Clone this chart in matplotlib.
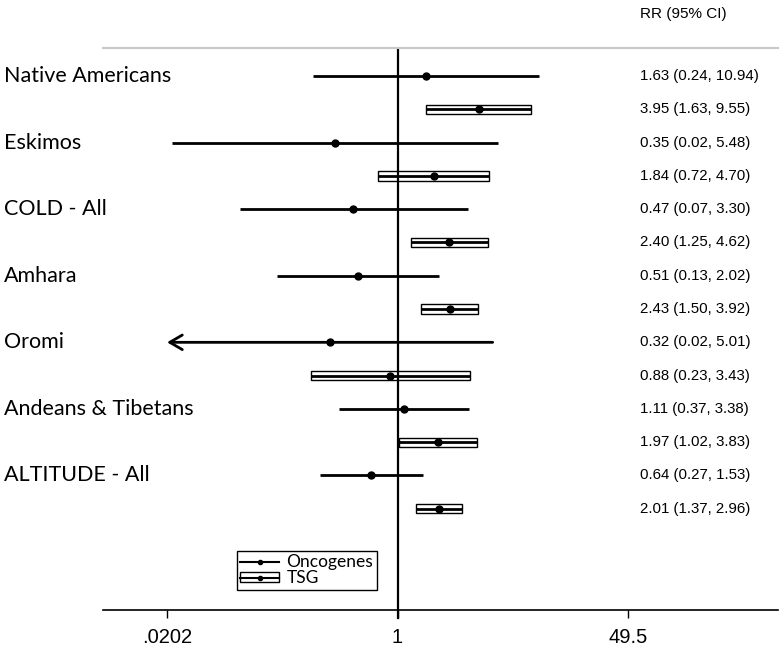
import numpy as np
import matplotlib
matplotlib.use("Agg")
import matplotlib.pyplot as plt
from matplotlib.lines import Line2D
from matplotlib.patches import Rectangle
from matplotlib.legend_handler import HandlerTuple
from matplotlib.transforms import blended_transform_factory

# === datos ===
grupos = ["Native Americans", "Eskimos", "COLD - All", "Amhara", "Oromi",
          "Andeans & Tibetans", "ALTITUDE - All"]

onc_rr = [1.63, 0.35, 0.47, 0.51, 0.32, 1.11, 0.64]
onc_lo = [0.24, 0.022, 0.07, 0.13, 0.018, 0.37, 0.27]
onc_hi = [10.94, 5.48, 3.30, 2.02, 5.01, 3.38, 1.53]

tsg_rr = [3.95, 1.84, 2.40, 2.43, 0.88, 1.97, 2.01]
tsg_lo = [1.63, 0.72, 1.25, 1.50, 0.23, 1.02, 1.37]
tsg_hi = [9.55, 4.70, 4.62, 3.92, 3.43, 3.83, 2.96]

ticks = [0.0202, 1, 49.5]
tick_labels = [".0202", "1", "49.5"]

W, H = 784, 651
fig = plt.figure(figsize=(W / 100, H / 100), dpi=100)
ax = fig.add_axes([103 / W, (H - 610) / H, (778 - 103) / W, (610 - 48) / H])

ax.set_xscale("log")
ax.set_xlim(0.00683, 628)
ax.set_ylim(16.04, -0.84)

xmin_plot = ticks[0]

for i in range(len(grupos)):
    y_onc = 2 * i
    y_tsg = 2 * i + 1

    # oncogenes: linea + punto
    if onc_lo[i] < xmin_plot:
        ax.annotate("", xy=(xmin_plot, y_onc), xytext=(onc_hi[i], y_onc),
                    arrowprops=dict(arrowstyle="->, head_length=0.6, head_width=0.35",
                                    lw=2, color="black", mutation_scale=15,
                                    shrinkA=0, shrinkB=0))
    else:
        ax.hlines(y_onc, onc_lo[i], onc_hi[i], color="black", lw=2)
    ax.plot(onc_rr[i], y_onc, "o", color="black", markersize=5)

    # TSG: caja + linea central + punto
    ax.barh(y_tsg, tsg_hi[i] - tsg_lo[i], left=tsg_lo[i], height=0.28,
            color="white", edgecolor="black", lw=1)
    ax.hlines(y_tsg, tsg_lo[i], tsg_hi[i], color="black", lw=2)
    ax.plot(tsg_rr[i], y_tsg, "o", color="black", markersize=5)

# linea de referencia en 1
ax.axvline(1, ymin=-0.014, ymax=0.9964, color="black", lw=1.6, clip_on=False)

# ejes
for s in ["left", "right"]:
    ax.spines[s].set_visible(False)
ax.spines["top"].set_color("#c8c8c8")
ax.spines["top"].set_linewidth(1.5)
ax.spines["bottom"].set_linewidth(1.2)
ax.set_yticks([])
ax.set_xticks(ticks)
ax.set_xticklabels(tick_labels, fontfamily="Liberation Sans", fontsize=14.5)
ax.minorticks_off()
ax.tick_params(axis="x", length=6, width=1, pad=7)

# textos
tr = blended_transform_factory(fig.transFigure, ax.transData)
for i, g in enumerate(grupos):
    ax.text(4 / W, 2 * i, g, transform=tr, fontfamily="Lato", fontsize=15.5,
            va="center", ha="left")

for i in range(len(grupos)):
    txt_onc = f"{onc_rr[i]:.2f} ({onc_lo[i]:.2f}, {onc_hi[i]:.2f})"
    txt_tsg = f"{tsg_rr[i]:.2f} ({tsg_lo[i]:.2f}, {tsg_hi[i]:.2f})"
    ax.text(640 / W, 2 * i, txt_onc, transform=tr, fontfamily="Liberation Sans",
            fontsize=10.8, va="center", ha="left")
    ax.text(640 / W, 2 * i + 1, txt_tsg, transform=tr, fontfamily="Liberation Sans",
            fontsize=10.8, va="center", ha="left")

fig.text(640 / W, 1 - 14 / H, "RR (95% CI)", fontfamily="Liberation Sans",
         fontsize=11, va="center", ha="left")

# leyenda
h_onc = Line2D([], [], color="black", lw=1.5, marker="o", markersize=3)
h_box = Rectangle((0, 0), 1, 1, facecolor="white", edgecolor="black", lw=1)
h_mid = Line2D([], [], color="black", lw=1.5, marker="o", markersize=3)
leg = fig.legend([h_onc, (h_box, h_mid)], ["Oncogenes", "TSG"],
                 handler_map={tuple: HandlerTuple(ndivide=1)},
                 loc="upper left", bbox_to_anchor=(237 / W, 1 - 551 / H),
                 bbox_transform=fig.transFigure, borderaxespad=0,
                 fancybox=False, frameon=True, edgecolor="black", framealpha=1,
                 prop={"family": "Lato", "size": 12.5}, handlelength=2.2,
                 handleheight=0.5, labelspacing=0.0, borderpad=0.2,
                 handletextpad=0.45)
leg.get_frame().set_linewidth(1)

fig.savefig("out.png", dpi=100)
